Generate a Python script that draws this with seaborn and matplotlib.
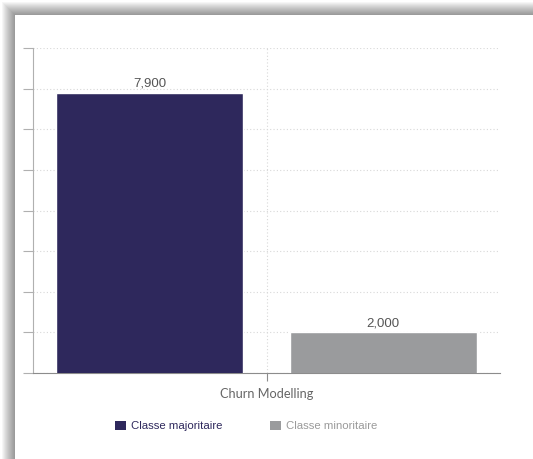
import matplotlib
matplotlib.use("Agg")
import matplotlib.pyplot as plt
from matplotlib.patches import Rectangle, Patch
import seaborn as sns
import pandas as pd

categories = ["Churn Modelling", "Churn Modelling"]
series = ["Classe majoritaire", "Classe minoritaire"]
values = [7900, 2000]
colors = ["#2e285c", "#9a9b9d"]
yticks = [1000, 2000, 3000, 4000, 5000, 6000, 7000, 8000, 9000]

df = pd.DataFrame({"cat": categories, "serie": series, "val": values})

sns.set_style("white")
W, H = 533, 459
fig = plt.figure(figsize=(W / 100, H / 100), dpi=100)
fig.patch.set_facecolor("white")

# card shadow + card
for i in range(1, 14):
    fig.patches.append(Rectangle((15 - i, -20), W + 40, H - 15 + 20 + i,
                                 transform=None, facecolor="black",
                                 edgecolor="none", alpha=0.035, zorder=-10))
fig.patches.append(Rectangle((15, -20), W + 40, H - 15 + 20, transform=None,
                             facecolor="white", edgecolor="none", zorder=-9))

ax = fig.add_axes([33 / W, 1 - 373 / H, (500 - 33) / W, (373 - 48) / H])
ax.set_facecolor("none")
sns.barplot(data=df, x="cat", y="val", hue="serie", palette=colors,
            width=1.0, gap=0.2, ax=ax, legend=False, saturation=1,
            zorder=3)

ax.set_ylim(1000, 9000)
ax.set_xlim(-0.5, 0.5)
ax.set_yticks(yticks)
ax.set_yticklabels([])
ax.set_xlabel("")
ax.set_ylabel("")
ax.grid(True, axis="both", linestyle=(0, (1, 2)), color="#d8d8d8",
        linewidth=0.8, zorder=0)
for s in ["top", "right"]:
    ax.spines[s].set_visible(False)
ax.spines["left"].set_color("#b0b0b0")
ax.spines["bottom"].set_color("#8c8c8c")
ax.tick_params(axis="y", length=7, color="#b0b0b0", width=0.8, left=True)
ax.tick_params(axis="x", length=6, color="#8c8c8c", width=0.8, bottom=True,
               labelsize=9.2, labelcolor="#666666", pad=5)
for t in ax.get_xticklabels():
    t.set_fontfamily("Lato")

for cont in ax.containers:
    ax.bar_label(cont, labels=[f"{v:,.0f}" for v in cont.datavalues],
                 padding=2, color="#555555", fontsize=9.5,
                 fontfamily="Liberation Sans")

handles = [Patch(facecolor=c, edgecolor="none") for c in colors]
leg = fig.legend(handles, series, loc="center", ncol=2,
                 bbox_to_anchor=(246 / W, 1 - 426 / H), frameon=False,
                 handlelength=0.95, handleheight=0.95, handletextpad=0.45,
                 columnspacing=4.2,
                 prop={"family": "Liberation Sans", "size": 8.2})
leg.get_texts()[0].set_color("#2e285c")
leg.get_texts()[1].set_color("#9a9a9a")

fig.savefig("out.png", dpi=100)
